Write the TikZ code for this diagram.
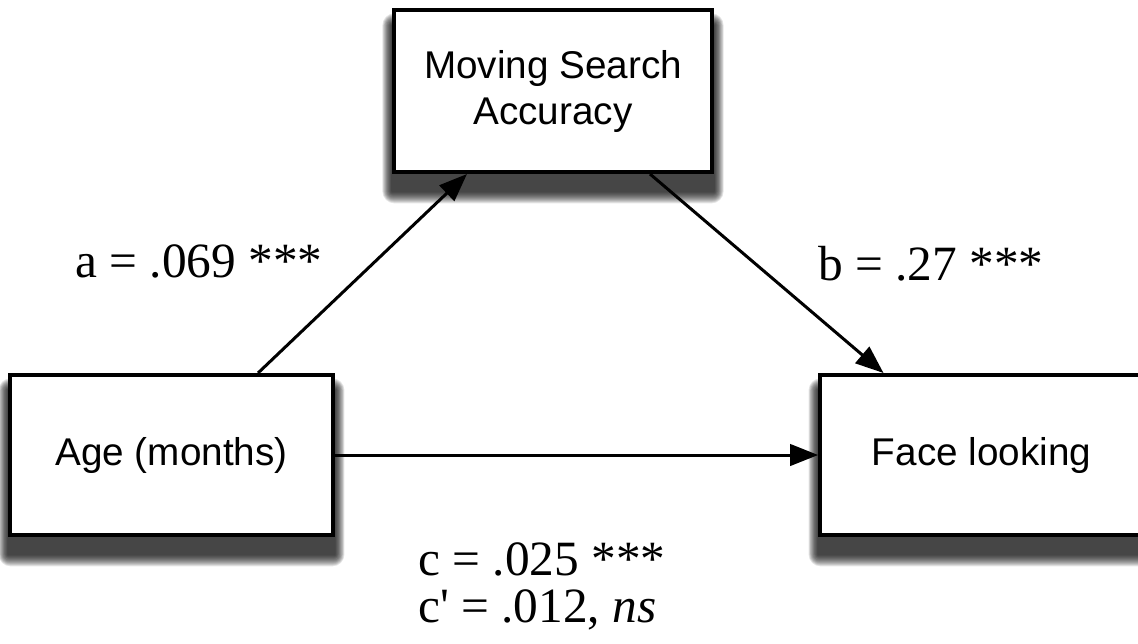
\documentclass[tikz,border=0pt]{standalone}
\usepackage{fontspec}
\setmainfont{Liberation Serif}
\setsansfont{Liberation Sans}
\usetikzlibrary{arrows.meta, backgrounds}

\begin{document}
\begin{tikzpicture}[x = 0.75pt, y = -0.75pt,
    var/.style = {draw, line width = 3pt, fill = white,
      minimum width = 242pt, minimum height = 120pt, inner sep = 0pt,
      align = center, font = \sffamily\fontsize{29}{34.5}\selectfont},
    shade/.style = {fill = black, opacity = 0.1},
    path/.style = {line width = 2.25pt,
      -{Triangle[length = 21pt, width = 16pt]}},
    coef/.style = {anchor = base, inner sep = 0pt,
      font = \fontsize{37}{44}\selectfont}]
  \useasboundingbox (0, 0) rectangle (1138, 643);

  \node[var, minimum width = 238.5pt, minimum height = 121.5pt]
    (msa) at (553, 91) {Moving Search\\Accuracy};
  \node[var] (age) at (171.5, 455) {Age (months)};
  \node[var] (face) at (981.5, 455) {Face looking};

  \begin{scope}[on background layer]
    \foreach \n in {msa, age, face}
      \foreach \i in {1, ..., 12}
        \fill[shade, rounded corners = 0.75*\i pt]
          ([shift = {(-0.6*\i pt, 0.75*\i pt - 13pt)}]\n.north west)
          rectangle ([shift = {(0.6*\i pt, -0.75*\i pt - 13pt)}]\n.south east);
  \end{scope}

  \draw[path] ([xshift = 64.9pt]age.north) -- ([xshift = -64.5pt]msa.south);
  \draw[path] ([xshift = 72.75pt]msa.south) -- ([xshift = -73.5pt]face.north);
  \draw[path] (age) -- (face);

  \node[coef] (a) at (199, 277) {a = .069 ***};
  \node[coef] (b) at (931, 280) {b = .27 ***};
  \node[coef, anchor = base west] (c) at (418, 575) {c = .025 ***};
  \node[coef, anchor = base west] (cp) at (418, 622)
    {c\textquotesingle{} = .012, \textit{ns}};
\end{tikzpicture}
\end{document}
